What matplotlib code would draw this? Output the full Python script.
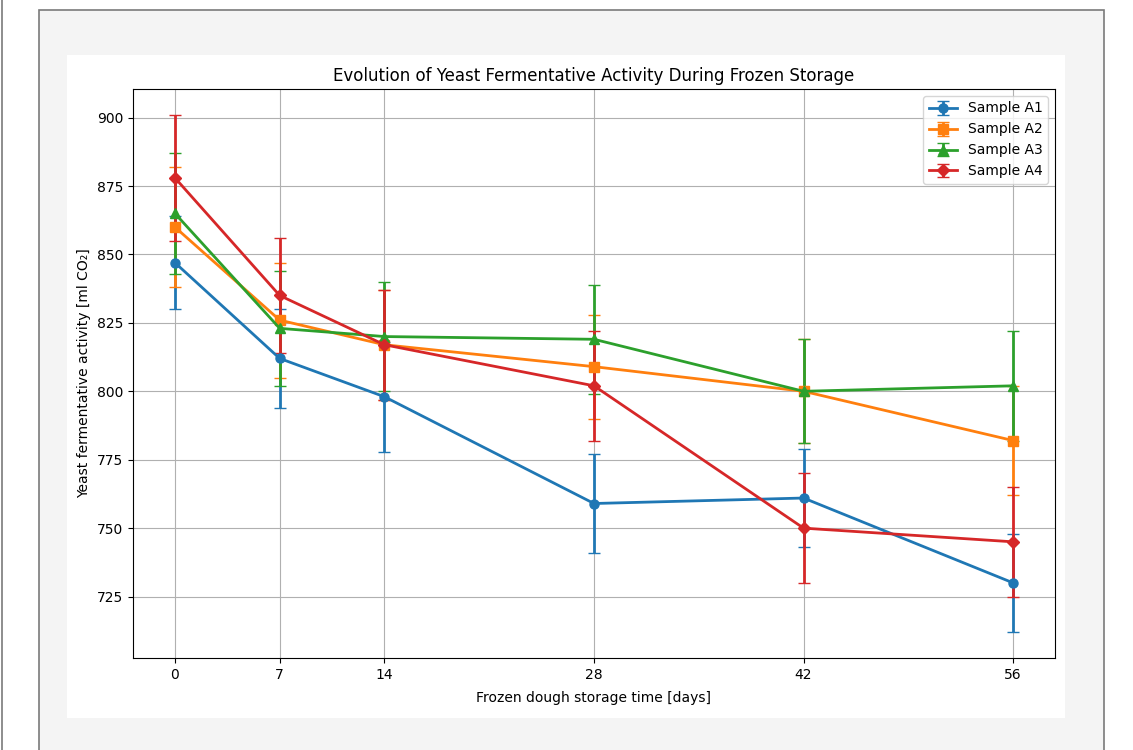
import matplotlib.pyplot as plt
from matplotlib.patches import Rectangle
from matplotlib.lines import Line2D

# storage days and measured activity (ml CO2) with std deviation
days = [0, 7, 14, 28, 42, 56]
labels = ["Sample A1", "Sample A2", "Sample A3", "Sample A4"]
a1 = [847, 812, 798, 759, 761, 730]
a1_err = [17, 18, 20, 18, 18, 18]
a2 = [860, 826, 817, 809, 800, 782]
a2_err = [22, 21, 20, 19, 19, 20]
a3 = [865, 823, 820, 819, 800, 802]
a3_err = [22, 21, 20, 20, 19, 20]
a4 = [878, 835, 817, 802, 750, 745]
a4_err = [23, 21, 20, 20, 20, 20]

W, H = 1133, 750
fig = plt.figure(figsize=(W / 100, H / 100), dpi=100)

# page frame around the embedded chart (kept behind the axes)
def px_rect(x0, y0, x1, y1, **kw):
    fig.patches.append(Rectangle((x0 / W, 1 - y1 / H), (x1 - x0) / W, (y1 - y0) / H,
                                 transform=fig.transFigure, zorder=-5, **kw))

px_rect(39, 10, 1104, 752, facecolor="#f4f4f4", edgecolor="#7a7a7a", lw=1.2)
px_rect(67, 55, 1065, 718, facecolor="white", edgecolor="none")
fig.lines.append(Line2D([2 / W, 2 / W], [0, 1], transform=fig.transFigure,
                        color="#7a7a7a", lw=1.2, zorder=-5))

ax = fig.add_axes([133 / W, 1 - 658 / H, 922 / W, 569 / H])

series = [(a1, a1_err, "o"), (a2, a2_err, "s"), (a3, a3_err, "^"), (a4, a4_err, "D")]
for (vals, errs, mk), lab in zip(series, labels):
    ax.errorbar(days, vals, yerr=errs, marker=mk, markersize=6.5, lw=2,
                capsize=4, label=lab)

ax.set_title("Evolution of Yeast Fermentative Activity During Frozen Storage")
ax.set_xlabel("Frozen dough storage time [days]", labelpad=7)
ax.set_ylabel("Yeast fermentative activity [ml CO₂]")
ax.set_xticks(days)
ax.grid(True)
ax.legend(loc="upper right")

fig.savefig("out.png", dpi=100)
